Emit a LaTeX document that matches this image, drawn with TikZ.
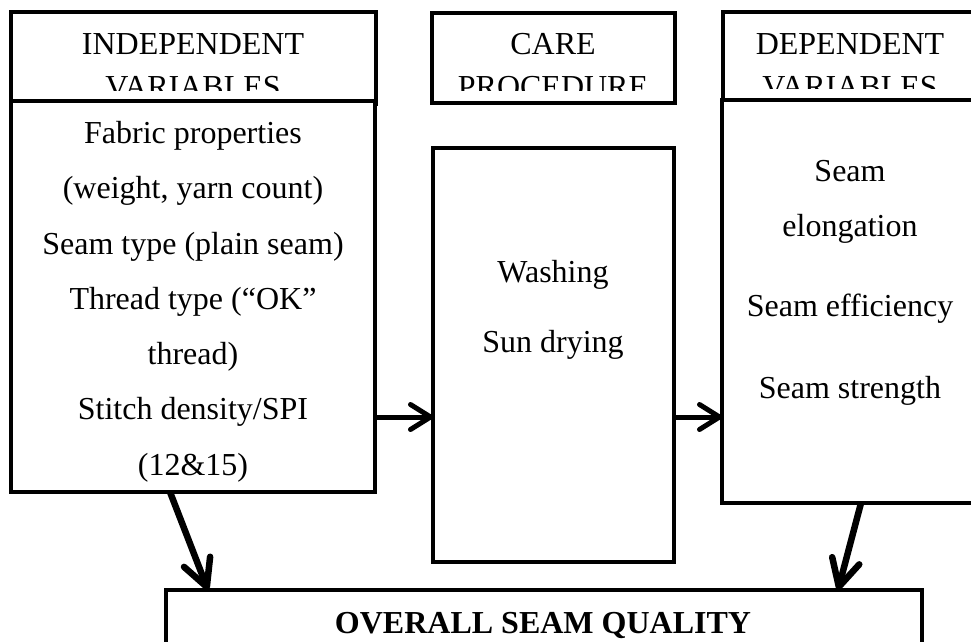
\documentclass[tikz,border=0pt]{standalone}
\usepackage{fontspec}
\setmainfont{Liberation Serif}
\usetikzlibrary{arrows.meta}

\begin{document}
\begin{tikzpicture}[x=1pt,y=-1pt,
  box/.style={draw,line width=4pt,fill=white,inner sep=0pt,outer sep=0pt,anchor=north west},
  txt/.style={align=center,inner sep=0pt,anchor=north,font=\fontsize{32}{55.3}\selectfont},
  head/.style={align=center,inner sep=0pt,anchor=north,font=\fontsize{32}{43}\selectfont},
  arr/.style={line width=5pt,-{Straight Barb[length=20pt,width=25pt,round]}},
  bigarr/.style={line width=6.5pt,-{Straight Barb[length=27pt,width=28pt,round]}}]
\useasboundingbox (0,0) rectangle (971,641);
\clip (0,0) rectangle (971,641);
% title boxes
\node[box,minimum width=365pt,minimum height=92pt] (indephead) at (11,12) {};
\node[box,minimum width=243pt,minimum height=90pt] (carehead) at (432,13) {};
\node[box,minimum width=260pt,minimum height=88pt] (dephead) at (723,12) {};
\begin{scope}
  \clip (11,12) rectangle (376,90);
  \node[head] (indeptitle) at (193,33) {INDEPENDENT\\VARIABLES};
\end{scope}
\begin{scope}
  \clip (432,13) rectangle (675,90);
  \node[head] (caretitle) at (553,33) {CARE\\PROCEDURE};
\end{scope}
\begin{scope}
  \clip (723,12) rectangle (971,88);
  \node[head] (deptitle) at (850,33) {DEPENDENT\\VARIABLES};
\end{scope}
% main boxes
\node[box,minimum width=364pt,minimum height=391pt] (indep) at (11,101) {};
\node[box,minimum width=241pt,minimum height=414pt] (care) at (433,148) {};
\node[box,minimum width=256pt,minimum height=403pt] (dep) at (722,100) {};
\node[box,minimum width=756pt,minimum height=80pt] (overall) at (166,590) {};
\node[txt] (indeptext) at (193,121) {Fabric properties\\(weight, yarn count)\\Seam type (plain seam)\\Thread type (“OK”\\thread)\\Stitch density/SPI\\(12\&15)};
\node[txt,font=\fontsize{32}{70}\selectfont] (caretext) at (553,260) {Washing\\Sun drying};
\node[txt] (deptext) at (850,160) {Seam\\elongation\\[24.7pt]Seam efficiency\\[26.7pt]Seam strength};
\node[head,font=\bfseries\fontsize{32}{40}\selectfont] (overalltext) at (543,612) {OVERALL SEAM QUALITY};
% arrows
\coordinate (midrow) at (0,417);
\draw[arr] (indep.east |- midrow) -- (care.west |- midrow);
\draw[arr] (care.east |- midrow) -- (dep.west |- midrow);
\draw[bigarr] ([xshift=-23pt]indep.south) -- ([xshift=42pt]overall.north west);
\draw[bigarr] ([xshift=11pt]dep.south) -- ([xshift=-84pt]overall.north east);
\end{tikzpicture}
\end{document}
